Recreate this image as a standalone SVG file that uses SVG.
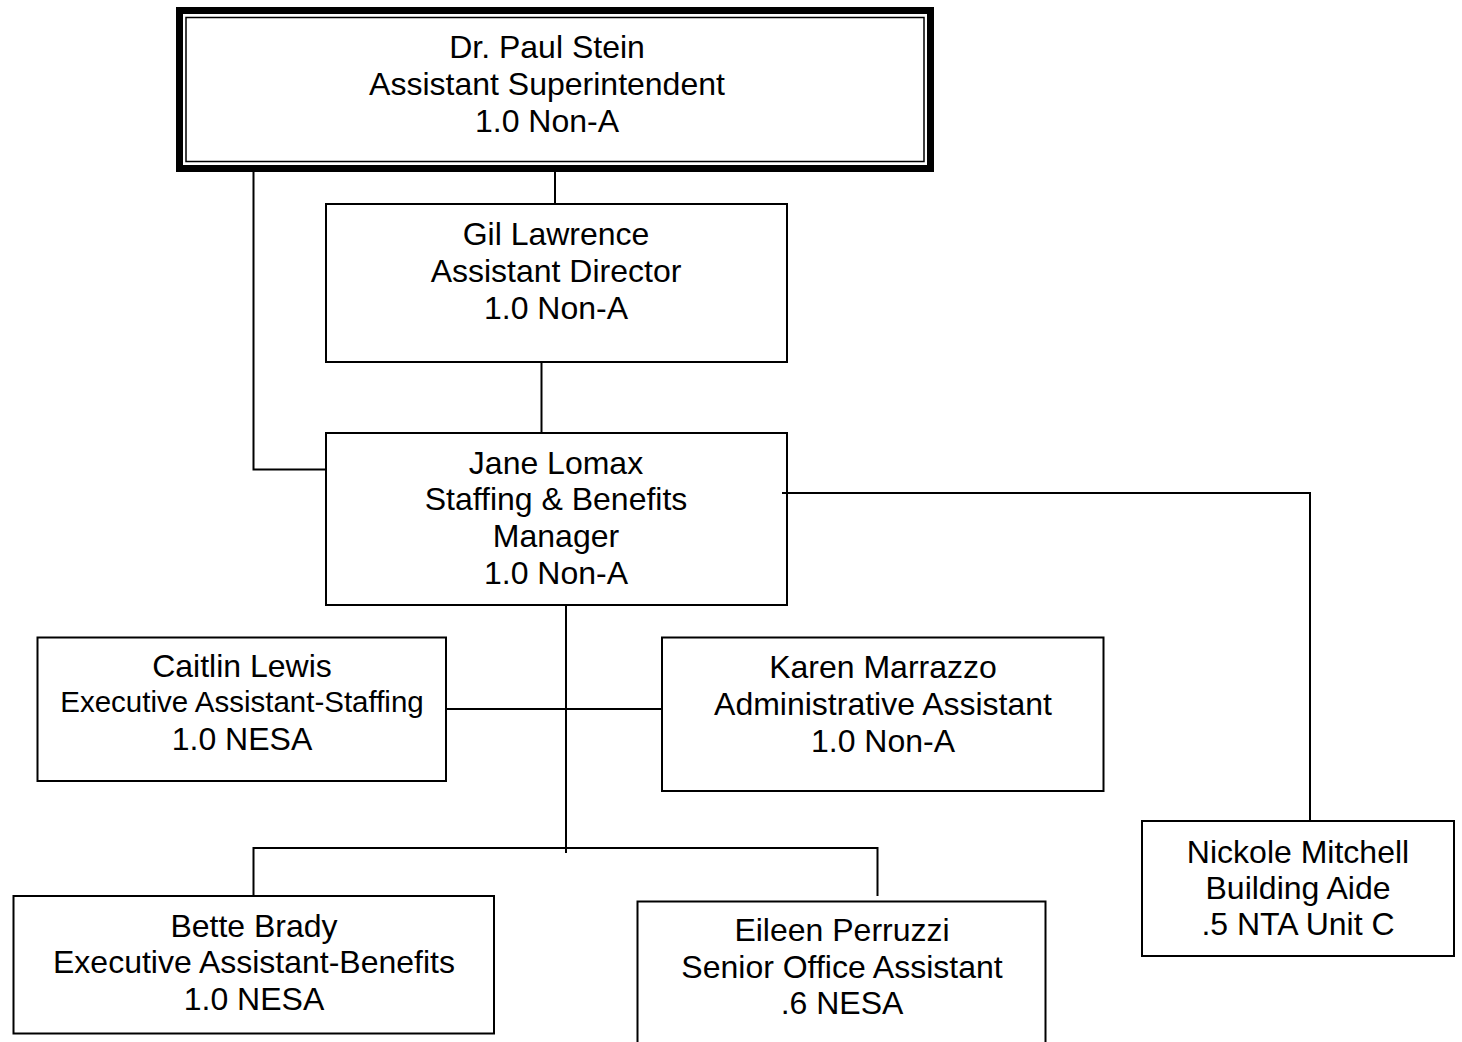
<svg xmlns="http://www.w3.org/2000/svg" width="1462" height="1042" viewBox="0 0 1462 1042">
<style>
.box{fill:#fff;stroke:#000;stroke-width:2}
.ln{fill:none;stroke:#000;stroke-width:2}
text{font-family:"Liberation Sans",Arial,sans-serif;font-size:32px;fill:#000;text-anchor:middle}
.sm{font-size:29.5px}
</style>
<rect width="1462" height="1042" fill="#fff"/>
<g id="paul">
<rect x="179.5" y="10.5" width="751" height="158" fill="#fff" stroke="#000" stroke-width="7"/>
<rect x="186" y="17.5" width="738" height="144" fill="none" stroke="#000" stroke-width="1.5"/>
<text x="547" y="58">Dr. Paul Stein</text>
<text x="547" y="95">Assistant Superintendent</text>
<text x="547" y="132">1.0 Non-A</text>
</g>
<g id="gil">
<rect class="box" x="326" y="204" width="461" height="158"/>
<text x="556" y="245">Gil Lawrence</text>
<text x="556" y="282">Assistant Director</text>
<text x="556" y="319">1.0 Non-A</text>
</g>
<g id="jane">
<rect class="box" x="326" y="433" width="461" height="172"/>
<text x="556" y="474">Jane Lomax</text>
<text x="556" y="510">Staffing &amp; Benefits</text>
<text x="556" y="547">Manager</text>
<text x="556" y="584">1.0 Non-A</text>
</g>
<g id="caitlin">
<rect class="box" x="37.5" y="637.5" width="408.5" height="143.5"/>
<text x="242" y="677">Caitlin Lewis</text>
<text class="sm" x="242" y="712">Executive Assistant-Staffing</text>
<text x="242" y="750">1.0 NESA</text>
</g>
<g id="karen">
<rect class="box" x="662" y="637.5" width="441.5" height="153.5"/>
<text x="883" y="678">Karen Marrazzo</text>
<text x="883" y="715">Administrative Assistant</text>
<text x="883" y="752">1.0 Non-A</text>
</g>
<g id="nickole">
<rect class="box" x="1142" y="821" width="312" height="135"/>
<text x="1298" y="863">Nickole Mitchell</text>
<text x="1298" y="899">Building Aide</text>
<text x="1298" y="935">.5 NTA Unit C</text>
</g>
<g id="bette">
<rect class="box" x="13.5" y="896" width="480.5" height="137.5"/>
<text x="254" y="937">Bette Brady</text>
<text x="254" y="973">Executive Assistant-Benefits</text>
<text x="254" y="1010">1.0 NESA</text>
</g>
<g id="eileen">
<rect class="box" x="637.5" y="901.5" width="408" height="160"/>
<text x="842" y="941">Eileen Perruzzi</text>
<text x="842" y="978">Senior Office Assistant</text>
<text x="842" y="1014">.6 NESA</text>
</g>
<g id="connectors">
<path class="ln" d="M253.5 172 V469.5 H326"/>
<path class="ln" d="M555 172 V204"/>
<path class="ln" d="M541.5 362 V433"/>
<path class="ln" d="M782 493 H1310 V821"/>
<path class="ln" d="M566 605 V853"/>
<path class="ln" d="M446 709 H662"/>
<path class="ln" d="M253.5 896 V848 H877.5 V896"/>
</g>
</svg>
